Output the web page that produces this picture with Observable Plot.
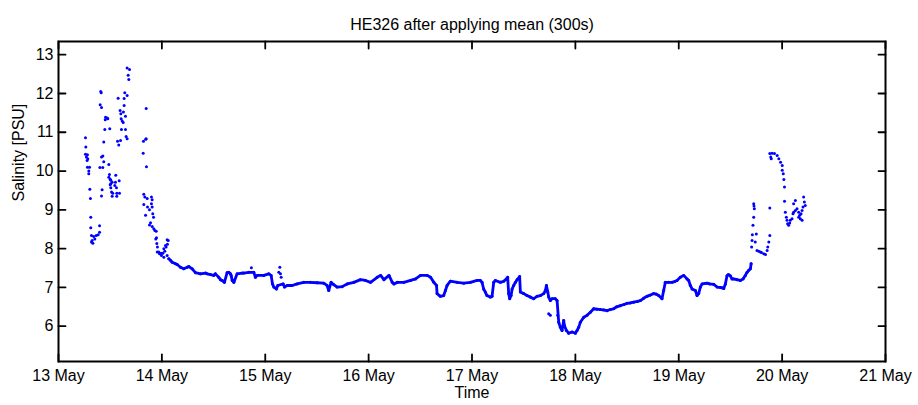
<!DOCTYPE html>
<html><head><meta charset="utf-8">
<script src="https://cdn.jsdelivr.net/npm/d3@7"></script>
<script src="https://cdn.jsdelivr.net/npm/@observablehq/plot@0.6"></script>
<style>body{margin:0;background:#fff}</style>
</head><body><div id="chart"></div>
<script>
const title = "HE326 after applying mean (300s)";
const xLabel = "Time";
const yLabel = "Salinity [PSU]";
const xTicks = [13, 14, 15, 16, 17, 18, 19, 20, 21];
const yTicks = [6, 7, 8, 9, 10, 11, 12, 13];

// continuous record (day of May, fractional)
const traceDay = [14.067,14.083,14.10,14.132,14.148,14.18,14.212,14.245,14.26,14.293,14.325,14.373,14.422,14.438,14.47,14.502,14.518,14.55,14.567,14.582,14.605,14.631,14.647,14.663,14.67,14.68,14.696,14.728,14.776,14.792,14.841,14.889,14.905,14.921,14.986,15.034,15.057,15.07,15.083,15.108,15.121,15.173,15.186,15.212,15.26,15.308,15.373,15.437,15.502,15.566,15.598,15.614,15.637,15.663,15.695,15.744,15.792,15.857,15.921,15.97,16.019,16.083,16.116,16.148,16.197,16.229,16.245,16.277,16.341,16.406,16.454,16.502,16.567,16.599,16.631,16.657,16.662,16.694,16.726,16.743,16.759,16.791,16.856,16.92,16.985,17.049,17.081,17.097,17.113,17.129,17.145,17.178,17.194,17.21,17.226,17.275,17.307,17.333,17.345,17.355,17.365,17.378,17.388,17.403,17.42,17.436,17.461,17.468,17.5,17.532,17.565,17.597,17.629,17.662,17.694,17.71,17.72,17.733,17.742,17.758,17.775,17.806,17.823,17.839,17.855,17.871,17.887,17.894,17.913,17.935,17.968,18.0,18.016,18.032,18.048,18.081,18.113,18.145,18.177,18.21,18.242,18.274,18.306,18.338,18.37,18.40,18.435,18.47,18.5,18.53,18.564,18.6,18.629,18.66,18.693,18.72,18.757,18.78,18.806,18.838,18.854,18.87,18.90,18.935,18.96,18.983,19.015,19.048,19.08,19.096,19.112,19.129,19.161,19.177,19.193,19.209,19.226,19.25,19.274,19.30,19.338,19.371,19.40,19.419,19.435,19.451,19.467,19.48,19.498,19.515,19.531,19.563,19.596,19.622,19.644,19.661,19.677,19.693,19.70];
const traceSal = [7.74,7.70,7.65,7.61,7.59,7.52,7.48,7.52,7.54,7.48,7.38,7.35,7.37,7.35,7.33,7.31,7.35,7.26,7.20,7.18,7.13,7.38,7.39,7.35,7.31,7.18,7.13,7.35,7.37,7.37,7.39,7.39,7.26,7.31,7.31,7.35,7.31,7.09,7.01,6.96,7.05,7.09,7.01,7.05,7.05,7.09,7.13,7.13,7.12,7.11,7.05,6.92,7.13,7.07,7.01,7.02,7.09,7.13,7.20,7.18,7.13,7.26,7.31,7.20,7.31,7.13,7.09,7.13,7.13,7.18,7.22,7.31,7.31,7.26,7.13,7.05,6.84,6.77,6.79,6.92,7.05,7.16,7.13,7.11,7.13,7.18,7.18,7.13,6.96,6.88,6.79,6.75,6.77,7.13,7.18,7.13,7.16,7.22,7.26,6.84,6.71,6.79,6.96,7.05,7.13,7.20,7.28,6.88,6.84,6.79,6.75,6.71,6.77,6.79,6.84,6.92,7.05,6.88,6.75,6.66,6.71,6.71,6.66,6.10,5.97,5.89,6.15,6.02,5.89,5.82,5.85,5.82,5.89,5.97,6.10,6.23,6.28,6.36,6.45,6.44,6.43,6.42,6.40,6.43,6.45,6.50,6.53,6.56,6.59,6.60,6.62,6.64,6.66,6.72,6.77,6.80,6.84,6.83,6.79,6.71,6.92,7.13,7.13,7.13,7.15,7.18,7.26,7.31,7.22,7.18,7.05,6.96,6.92,6.79,6.84,7.01,7.09,7.10,7.11,7.09,7.08,7.01,7.00,6.99,6.97,7.09,7.30,7.33,7.30,7.22,7.22,7.20,7.18,7.22,7.31,7.39,7.44,7.48,7.61];

// scattered samples (noisy periods)
const scatterDay = [13.261,13.264,13.261,13.28,13.27,13.283,13.277,13.28,13.293,13.293,13.303,13.309,13.312,13.312,13.319,13.319,13.325,13.332,13.341,13.351,13.365,13.384,13.397,13.397,13.30,13.4,13.403,13.409,13.413,13.416,13.416,13.416,13.422,13.428,13.429,13.438,13.438,13.448,13.452,13.455,13.471,13.477,13.487,13.487,13.493,13.496,13.5,13.5,13.506,13.506,13.506,13.513,13.519,13.519,13.525,13.545,13.551,13.554,13.561,13.564,13.564,13.571,13.577,13.583,13.587,13.59,13.596,13.6,13.603,13.606,13.609,13.616,13.626,13.628,13.635,13.635,13.641,13.648,13.648,13.654,13.664,13.664,13.664,13.674,13.68,13.687,13.819,13.822,13.825,13.825,13.835,13.842,13.844,13.848,13.848,13.851,13.858,13.861,13.88,13.88,13.89,13.899,13.899,13.906,13.906,13.906,13.912,13.919,13.922,13.932,13.941,13.945,13.948,13.951,13.955,13.957,13.97,13.977,13.993,13.996,14.009,14.019,14.019,14.028,14.035,14.041,14.051,14.051,14.054,14.061,
14.866,15.131,15.141,15.147,15.154,17.742,17.758,17.829,
19.705,19.709,19.712,19.718,19.725,19.731,19.725,19.728,19.74,19.75,19.757,19.773,19.79,19.80,19.822,19.839,19.855,19.861,19.871,19.881,19.881,19.881,19.89,19.895,19.904,19.926,19.952,19.968,19.985,20.001,20.001,20.011,20.017,20.023,20.023,20.031,20.041,20.047,20.053,20.063,20.073,20.079,20.096,20.105,20.111,20.111,20.128,20.128,20.144,20.16,20.16,20.17,20.176,20.183,20.193,20.193,20.202,20.208,20.215,20.224];
const scatterSal = [10.86,10.62,10.43,10.42,10.36,10.32,10.27,10.10,10.00,9.93,9.53,9.29,8.81,8.54,8.34,8.17,8.21,8.14,8.31,8.25,8.34,8.36,8.42,8.59,10.10,10.09,11.71,12.05,12.02,11.64,10.36,9.36,9.52,10.09,10.39,10.75,10.24,11.07,11.32,11.39,11.37,11.35,10.17,9.84,9.91,11.09,9.79,9.65,9.76,9.67,9.57,9.46,9.71,9.35,9.43,9.63,9.71,9.89,9.57,9.43,9.35,10.77,11.88,10.67,9.75,9.43,11.56,10.79,11.48,11.35,11.07,11.29,11.25,11.52,11.87,11.69,12.02,11.41,11.07,10.89,12.66,11.95,10.83,12.47,12.36,12.62,10.46,10.77,9.40,9.14,9.33,8.86,10.82,11.61,10.83,10.11,9.29,9.07,9.00,8.61,8.67,9.33,9.16,9.26,9.07,8.57,8.90,8.81,8.51,8.47,8.25,8.45,8.28,8.13,7.91,8.04,7.91,7.87,7.88,7.82,7.88,8.00,7.78,7.93,8.08,8.04,8.23,7.82,8.11,8.21,
7.51,7.39,7.52,7.35,7.26,6.32,6.28,6.28,
8.04,8.21,8.36,8.60,8.81,9.03,9.16,9.10,8.17,8.38,7.95,7.93,7.91,7.90,7.87,7.85,7.95,8.04,8.17,8.34,9.05,10.45,10.36,10.32,10.46,10.45,10.40,10.32,10.23,10.14,10.02,9.93,9.78,9.59,9.22,8.94,8.81,8.73,8.64,8.60,8.66,8.73,8.77,8.90,8.94,9.16,8.98,9.24,9.03,8.94,8.81,8.86,8.77,8.90,8.98,8.73,9.07,9.33,9.20,9.11];

const trace = traceDay.map((d, i) => ({day: d, sal: traceSal[i]}));
const scatter = scatterDay.map((d, i) => ({day: d, sal: scatterSal[i]}));
const blue = "#0000ff";
const tickShape = {draw(context, l) { context.moveTo(0, 0); context.lineTo(0, -l); }};
const tickOpts = {shape: tickShape, anchor: "start", length: 7, stroke: "black", strokeWidth: 1.8};

const chart = Plot.plot({
  width: 918, height: 405,
  marginTop: 41, marginLeft: 58, marginRight: 33, marginBottom: 44,
  style: {fontFamily: "'Liberation Sans', Arial, sans-serif", fontSize: "16px", background: "white", color: "black"},
  x: {domain: [13, 21]},
  y: {domain: [5.09, 13.34]},
  marks: [
    Plot.line(trace, {x: "day", y: "sal", stroke: blue, strokeWidth: 2.8, strokeLinejoin: "round"}),
    Plot.dot(trace.concat(scatter), {x: "day", y: "sal", r: 1.5, fill: blue, stroke: "none"}),
    Plot.frame({stroke: "black", strokeWidth: 2}),
    Plot.vector(xTicks, {x: d => d, frameAnchor: "bottom", rotate: 0, ...tickOpts}),
    Plot.vector(xTicks, {x: d => d, frameAnchor: "top", rotate: 180, ...tickOpts}),
    Plot.vector(yTicks, {y: d => d, frameAnchor: "left", rotate: 90, ...tickOpts}),
    Plot.vector(yTicks, {y: d => d, frameAnchor: "right", rotate: -90, ...tickOpts}),
    Plot.axisX(xTicks, {anchor: "bottom", tickSize: 0, tickPadding: 8, tickFormat: d => `${d} May`, label: null, fontSize: 16}),
    Plot.axisY(yTicks, {anchor: "left", tickSize: 0, tickPadding: 5, tickFormat: d => `${d}`, label: null, fontSize: 16}),
    Plot.text([title], {frameAnchor: "top", dy: -23, fontSize: 16, text: d => d}),
    Plot.text([xLabel], {frameAnchor: "bottom", dy: 36, fontSize: 16, text: d => d}),
    Plot.text([yLabel], {frameAnchor: "left", dx: -40, rotate: -90, fontSize: 16, text: d => d})
  ]
});
document.getElementById("chart").append(chart);
</script>
</body></html>
